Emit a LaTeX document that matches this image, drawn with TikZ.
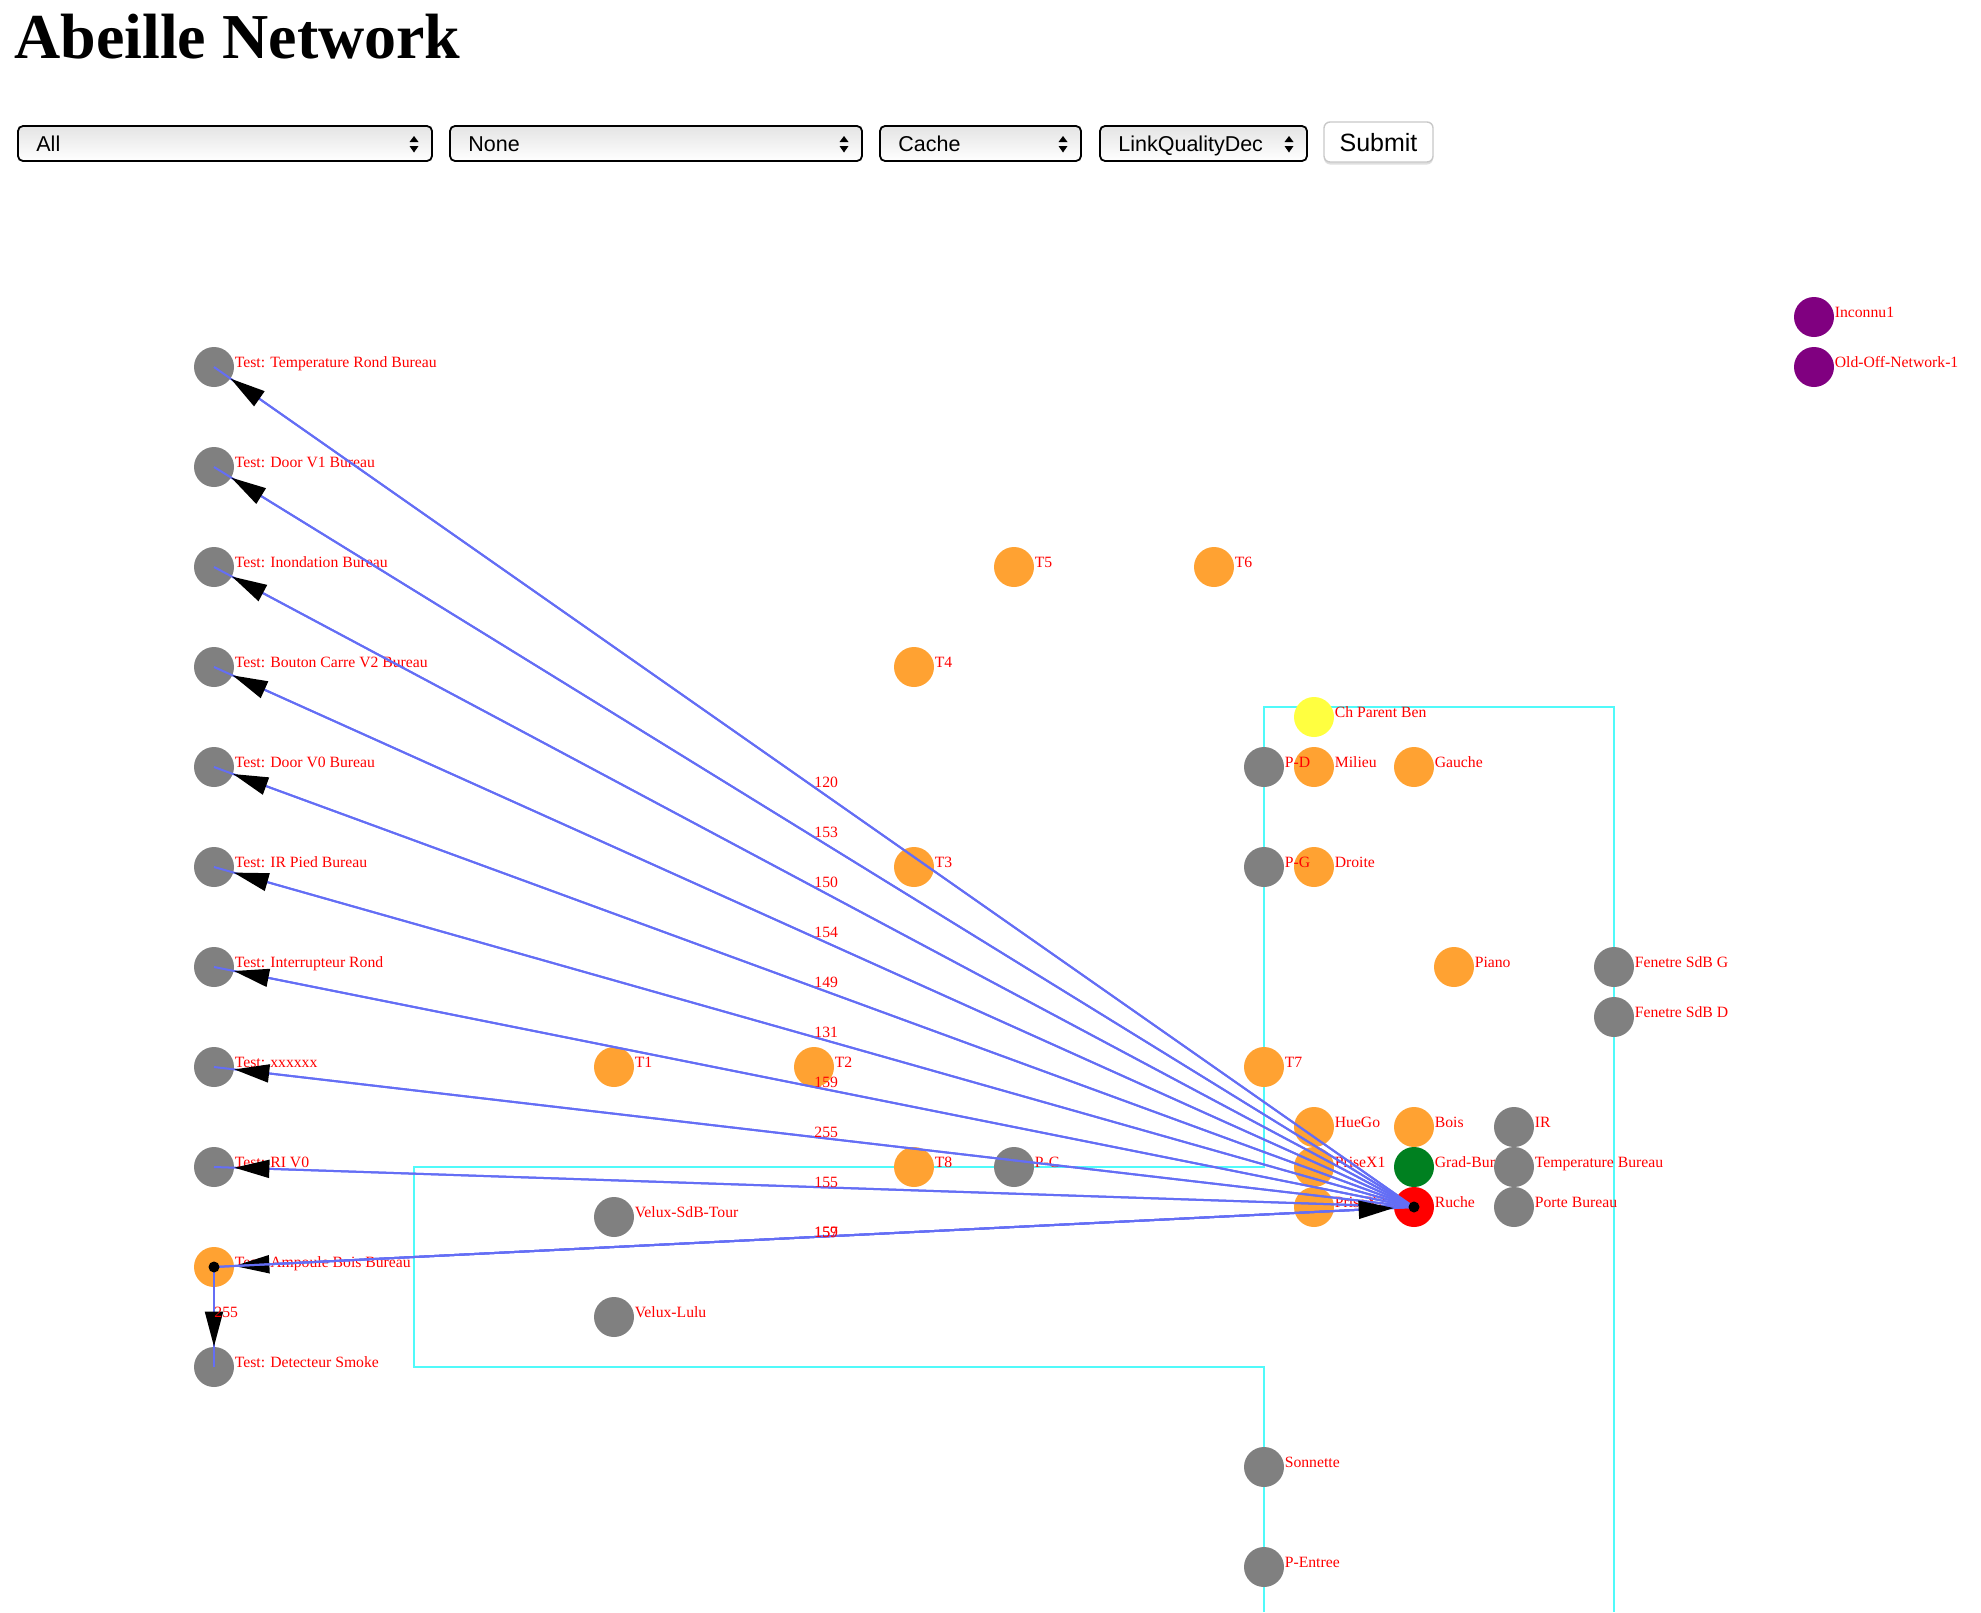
\documentclass[tikz,border=0pt]{standalone}
\usepackage{fontspec}
\setmainfont{Liberation Serif}
\newfontfamily\uisans{Liberation Sans}
\usetikzlibrary{arrows.meta}
\definecolor{ngray}{RGB}{128,128,128}
\definecolor{norange}{RGB}{255,162,50}
\definecolor{nyellow}{RGB}{255,255,64}
\definecolor{ngreen}{RGB}{0,128,32}
\definecolor{nred}{RGB}{255,0,0}
\definecolor{npurple}{RGB}{128,0,128}
\definecolor{ncyan}{RGB}{80,250,250}
\definecolor{eblue}{RGB}{100,110,245}
\definecolor{selgray}{RGB}{228,228,228}
\definecolor{btngray}{RGB}{200,200,200}
\begin{document}
\begin{tikzpicture}[x=0.5pt,y=-0.5pt,
  dev/.style={circle, minimum size=20pt, inner sep=0pt, draw=none},
  gr/.style={dev, fill=ngray},
  og/.style={dev, fill=norange},
  yl/.style={dev, fill=nyellow},
  gn/.style={dev, fill=ngreen},
  rd/.style={dev, fill=nred},
  pp/.style={dev, fill=npurple},
  lbl/.style={anchor=base west, inner sep=0pt, text=red, font=\fontsize{7.85pt}{9pt}\selectfont},
  edge/.style={draw=eblue, line width=1pt},
  arr/.style={edge, -{Triangle[length=17.5pt,width=9pt,black]}},
  dotmark/.style={circle, fill=black, minimum size=5.5pt, inner sep=0pt},
  groupline/.style={draw=ncyan, line width=1.2pt},
  selbox/.style={draw=black, line width=0.9pt, rounded corners=2.5pt, top color=selgray, bottom color=white},
  seltext/.style={anchor=base west, inner sep=0pt, font=\uisans\fontsize{10.75pt}{12pt}\selectfont},
]
\useasboundingbox (0,0) rectangle (1981,1612);

% title
\node[anchor=base west, inner sep=0pt, font=\fontsize{32pt}{36pt}\bfseries\selectfont] (title) at (14,58) {Abeille Network};

% select boxes
\foreach \n/\xa/\xb/\t in {sel1/18/432/All, sel2/450/862/None, sel3/880/1081/Cache, sel4/1100/1307/LinkQualityDec} {
  \draw[selbox] (\xa,126) rectangle (\xb,161);
  \node[seltext] (\n) at (\xa+18,151) {\t};
  \fill ({\xb-18-4.5},142) -- ({\xb-18+4.5},142) -- ({\xb-18},136) -- cycle;
  \fill ({\xb-18-4.5},146) -- ({\xb-18+4.5},146) -- ({\xb-18},152.5) -- cycle;
}
\fill[gray!25, rounded corners=3pt] (1324,124) rectangle (1433,164.5);
\draw[fill=white, draw=btngray, line width=0.7pt, rounded corners=3pt] (1324,122) rectangle (1433,162);
\node[anchor=base, inner sep=0pt, font=\uisans\fontsize{12.5pt}{14pt}\selectfont] (submit) at (1378.5,151) {Submit};

% group outlines
\draw[groupline] (1264,1612) -- (1264,1367) -- (414,1367) -- (414,1167) -- (1264,1167) -- (1264,707) -- (1614,707) -- (1614,1612);

% device circles
\foreach \n/\x/\y/\s in {
  lt1/214/367/gr, lt2/214/467/gr, lt3/214/567/gr, lt4/214/667/gr, lt5/214/767/gr,
  lt6/214/867/gr, lt7/214/967/gr, lt8/214/1067/gr, lt9/214/1167/gr, lt10/214/1267/og, lt11/214/1367/gr,
  t1/614/1067/og, t2/814/1067/og, t3/914/867/og, t4/914/667/og, t5/1014/567/og, t6/1214/567/og,
  t7/1264/1067/og, t8/914/1167/og, pc/1014/1167/gr,
  vsdb/614/1217/gr, vlulu/614/1317/gr,
  pd/1264/767/gr, pg/1264/867/gr, chpb/1314/717/yl,
  milieu/1314/767/og, gauche/1414/767/og, droite/1314/867/og, piano/1454/967/og,
  fsdbg/1614/967/gr, fsdbd/1614/1017/gr,
  huego/1314/1127/og, bois/1414/1127/og, ir/1514/1127/gr,
  prisex1/1314/1167/og, gradbur/1414/1167/gn, tempbur/1514/1167/gr,
  prisex2/1314/1207/og, ruche/1414/1207/rd, portebur/1514/1207/gr,
  sonnette/1264/1467/gr, pentree/1264/1567/gr,
  inconnu/1814/317/pp, oldoff/1814/367/pp} {
  \node[\s] (\n) at (\x,\y) {};
}

% device labels
\foreach \n/\t in {
  lt1/{Test: Temperature Rond Bureau}, lt2/{Test: Door V1 Bureau}, lt3/{Test: Inondation Bureau},
  lt4/{Test: Bouton Carre V2 Bureau}, lt5/{Test: Door V0 Bureau}, lt6/{Test: IR Pied Bureau},
  lt7/{Test: Interrupteur Rond}, lt8/{Test: xxxxxx}, lt9/{Test: RI V0},
  lt10/{Test: Ampoule Bois Bureau}, lt11/{Test: Detecteur Smoke},
  t1/T1, t2/T2, t3/T3, t4/T4, t5/T5, t6/T6, t7/T7, t8/T8, pc/P-C,
  vsdb/Velux-SdB-Tour, vlulu/Velux-Lulu, pd/P-D, pg/P-G, chpb/Ch Parent Ben,
  milieu/Milieu, gauche/Gauche, droite/Droite, piano/Piano,
  fsdbg/Fenetre SdB G, fsdbd/Fenetre SdB D,
  huego/HueGo, bois/Bois, ir/IR, prisex1/PriseX1, gradbur/Grad-Bur, tempbur/Temperature Bureau,
  prisex2/PriseX2, ruche/Ruche, portebur/Porte Bureau,
  sonnette/Sonnette, pentree/P-Entree, inconnu/Inconnu1, oldoff/Old-Off-Network-1} {
  \node[lbl] (\n-l) at (\n.east) {\t};
}

% links
\foreach \m in {lt1,lt2,lt3,lt4,lt5,lt6,lt7,lt8,lt9,lt10} {
  \draw[edge] (ruche.center) -- (\m.center);
  \draw[arr] (ruche) -- (\m);
}
\draw[edge] (lt10.center) -- (ruche.center);
\draw[arr] (lt10) -- (ruche);
\draw[edge] (lt10.center) -- (lt11.center);
\draw[arr] (lt10) -- (lt11);

% link labels
\foreach \m/\v in {lt1/120, lt2/153, lt3/150, lt4/154, lt5/149, lt6/131, lt7/159, lt8/255, lt9/155, lt10/159} {
  \path (ruche.center) -- (\m.center) node[lbl, pos=0.5] (q-\m) {\v};
}
\path (lt10.center) -- (ruche.center) node[lbl, pos=0.5] (q-amp) {157};
\path (lt10.center) -- (lt11.center) node[lbl, pos=0.5] (q-smoke) {255};

% start markers
\node[dotmark] (dot-ruche) at (ruche.center) {};
\node[dotmark] (dot-amp) at (lt10.center) {};
\end{tikzpicture}
\end{document}
